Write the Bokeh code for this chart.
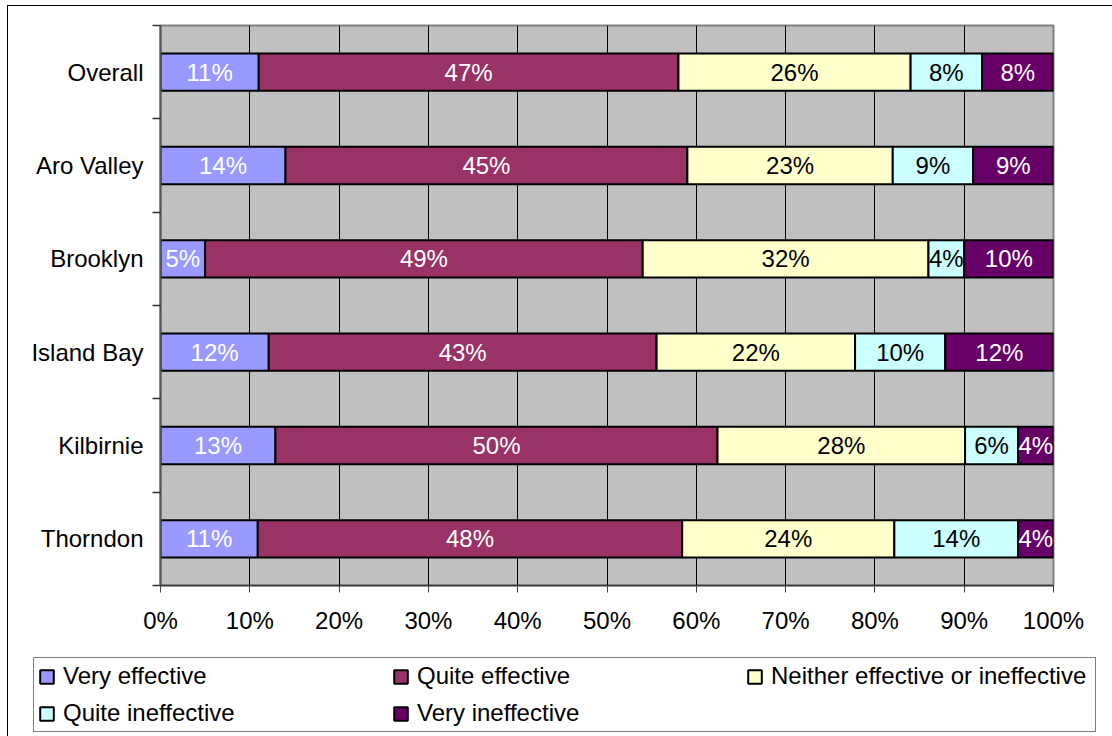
from bokeh.plotting import figure
from bokeh.layouts import column
from bokeh.models import (ColumnDataSource, Range1d, FixedTicker, PrintfTickFormatter,
                          Legend, LegendItem)
from bokeh.core.properties import value
from bokeh.embed import file_html
from bokeh.resources import INLINE

# Survey areas, top to bottom
areas = ["Overall", "Aro Valley", "Brooklyn", "Island Bay", "Kilbirnie", "Thorndon"]

# Response categories, stacked left to right
ratings = ["Very effective", "Quite effective", "Neither effective or ineffective",
           "Quite ineffective", "Very ineffective"]

# Share of respondents (%) per area
very_effective = [11, 14, 5, 12, 13, 11]
quite_effective = [47, 45, 49, 43, 50, 48]
neither = [26, 23, 32, 22, 28, 24]
quite_ineffective = [8, 9, 4, 10, 6, 14]
very_ineffective = [8, 9, 10, 12, 4, 4]

x_ticks = [0, 10, 20, 30, 40, 50, 60, 70, 80, 90, 100]

series = [very_effective, quite_effective, neither, quite_ineffective, very_ineffective]
fills = ["#9999FF", "#993366", "#FFFFCC", "#CCFFFF", "#660066"]
text_colors = ["#FFFFFF", "#FFFFFF", "#000000", "#000000", "#FFFFFF"]

FONT = "Liberation Sans"
FS = "24px"
W = 1112
CHART_H = 650
KEY_H = 86

n = len(areas)
y_pos = [n - i - 0.5 for i in range(n)]
totals = [sum(s[i] for s in series) for i in range(n)]

# ---------------------------------------------------------------- bar chart
chart = figure(width=W, height=CHART_H,
               x_range=Range1d(0, 100), y_range=Range1d(0, n),
               output_backend="svg", toolbar_location=None,
               min_border_left=160, min_border_right=59,
               min_border_top=25, min_border_bottom=65)
chart.frame_align = False

chart.background_fill_color = "#C0C0C0"
chart.border_fill_alpha = 0
chart.outline_line_color = "#808080"
chart.outline_line_width = 2

# outer chart frame: lines along the top and left edge of the chart area
chart.styles = {
    "background": ("linear-gradient(#000, #000) 7px 5px / 1px 100% no-repeat, "
                   "linear-gradient(#000, #000) 7px 5px / 100% 1px no-repeat, #FFFFFF"),
}

# vertical grid only
chart.xgrid.ticker = FixedTicker(ticks=x_ticks)
chart.xgrid.grid_line_color = "#000000"
chart.xgrid.grid_line_width = 1
chart.ygrid.grid_line_color = None

# 100% stacked bars with centred value labels
cum = [0.0] * n
for k, vals in enumerate(series):
    left = [cum[i] / totals[i] * 100 for i in range(n)]
    right = [(cum[i] + vals[i]) / totals[i] * 100 for i in range(n)]
    cum = [cum[i] + vals[i] for i in range(n)]
    src = ColumnDataSource(dict(
        y=y_pos, left=left, right=right,
        mid=[(l + r) / 2 for l, r in zip(left, right)],
        label=[f"{v}%" for v in vals],
    ))
    chart.hbar(y="y", left="left", right="right", height=0.4, source=src,
               fill_color=fills[k], line_color="#000000", line_width=2)
    chart.text(x="mid", y="y", text="label", source=src,
               text_align="center", text_baseline="middle",
               text_color=text_colors[k], text_font=value(FONT), text_font_size=FS)

# category axis: names at centres, tick marks at the boundaries
ya = chart.yaxis[0]
ya.ticker = FixedTicker(ticks=y_pos, minor_ticks=list(range(n + 1)))
ya.major_label_overrides = {y: a for y, a in zip(y_pos, areas)}
ya.major_tick_in = 0
ya.major_tick_out = 0
ya.minor_tick_in = 0
ya.minor_tick_out = 8
ya.minor_tick_line_color = "#333333"
ya.minor_tick_line_width = 1.5
ya.axis_line_color = "#555555"
ya.axis_line_width = 2
ya.major_label_standoff = 9
ya.major_label_text_font = FONT
ya.major_label_text_font_size = FS
ya.major_label_text_color = "#000000"

# percentage axis
xa = chart.xaxis[0]
xa.ticker = FixedTicker(ticks=x_ticks)
xa.formatter = PrintfTickFormatter(format="%d%%")
xa.major_tick_in = 0
xa.major_tick_out = 7
xa.major_tick_line_color = "#404040"
xa.major_tick_line_width = 1
xa.axis_line_color = "#333333"
xa.axis_line_width = 1.5
xa.major_label_standoff = 14
xa.major_label_text_font = FONT
xa.major_label_text_font_size = FS
xa.major_label_text_color = "#000000"

# ---------------------------------------------------------------- key strip
key = figure(width=W, height=KEY_H,
             x_range=Range1d(0, W), y_range=Range1d(0, KEY_H),
             output_backend="svg", toolbar_location=None,
             x_axis_location=None, y_axis_location=None,
             min_border=0, min_border_left=0, min_border_right=0,
             min_border_top=0, min_border_bottom=0)
key.frame_align = False
key.grid.visible = False
key.outline_line_color = None
key.background_fill_alpha = 0
key.border_fill_alpha = 0
key.styles = {
    "background": "linear-gradient(#000, #000) 7px 0 / 1px 100% no-repeat, #FFFFFF",
}

# swatch renderers for the key (one undrawn row each, so the key can sample them)
nan = float("nan")
swatches = [key.hbar(y=[nan], left=[nan], right=[nan], height=1,
                     fill_color=c, line_color="#000000", line_width=2)
            for c in fills]

legend = Legend(
    items=[LegendItem(label=name, renderers=[r]) for name, r in zip(ratings, swatches)],
    location=(33, 4), orientation="horizontal", ncols=3,
    glyph_width=17, glyph_height=17, label_standoff=8, label_width=320,
    spacing=9, padding=4, margin=0,
    border_line_color="#000000", border_line_width=1,
    background_fill_color="#FFFFFF", background_fill_alpha=1,
    label_text_font=FONT, label_text_font_size=FS, label_text_color="#000000",
)
key.add_layout(legend, "center")

p = column(chart, key, spacing=0)
open("out.html", "w").write(file_html(p, INLINE))
